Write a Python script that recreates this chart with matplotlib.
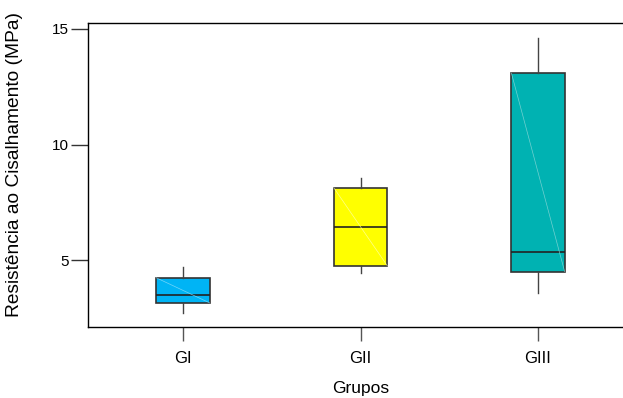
import matplotlib
matplotlib.use("Agg")
import matplotlib.pyplot as plt

plt.rcParams['font.family'] = ['Liberation Sans', 'DejaVu Sans']

groups = ["GI", "GII", "GIII"]
whisker_low = [2.74, 4.45, 3.59]
q1 = [3.17, 4.78, 4.52]
median = [3.51, 6.44, 5.38]
q3 = [4.25, 8.13, 13.08]
whisker_high = [4.72, 8.55, 14.58]
colors = ["#00B4F5", "#FFFF00", "#00B2B2"]
diag_colors = ["#8FDDFA", "#FFFFB0", "#8FD8D8"]

fig = plt.figure(figsize=(6.23, 3.98), dpi=100)
ax = fig.add_axes([88/623, 1 - 327/398, (633 - 88)/623, (327 - 23)/398])

stats = []
for i, g in enumerate(groups):
    stats.append(dict(label=g, whislo=whisker_low[i], q1=q1[i], med=median[i],
                      q3=q3[i], whishi=whisker_high[i], fliers=[]))
positions = [1, 2, 3]
width = 0.30
bp = ax.bxp(stats, positions=positions, widths=width, patch_artist=True,
            showcaps=False,
            boxprops=dict(edgecolor="#333333", linewidth=1.2),
            medianprops=dict(color="#222222", linewidth=1.2),
            whiskerprops=dict(color="#444444", linewidth=1.0))
for patch, c in zip(bp['boxes'], colors):
    patch.set_facecolor(c)
    patch.set_zorder(2)
for i, p in enumerate(positions):
    ax.plot([p - width/2, p + width/2], [q3[i], q1[i]], color=diag_colors[i],
            linewidth=0.5, alpha=0.8, zorder=2.5)

ax.set_xlim(0.465, 3.535)
ax.set_ylim(2.13, 15.24)
ax.set_yticks([5, 10, 15])
ax.set_xticks(positions)
ax.set_xticklabels(groups)
ax.tick_params(axis='x', length=10, width=1, color="#555555", labelsize=12, pad=7)
ax.tick_params(axis='y', length=12, width=1, color="#333333", labelsize=11, pad=2)
for s in ax.spines.values():
    s.set_linewidth(1.0)
    s.set_color("black")

ax.set_xlabel("Grupos", fontsize=12.5, labelpad=11)
ax.set_ylabel("Resistência ao Cisalhamento (MPa)", fontsize=13.8)
ax.yaxis.set_label_coords(-0.12, 0.534)

fig.savefig("out.png", dpi=100)
